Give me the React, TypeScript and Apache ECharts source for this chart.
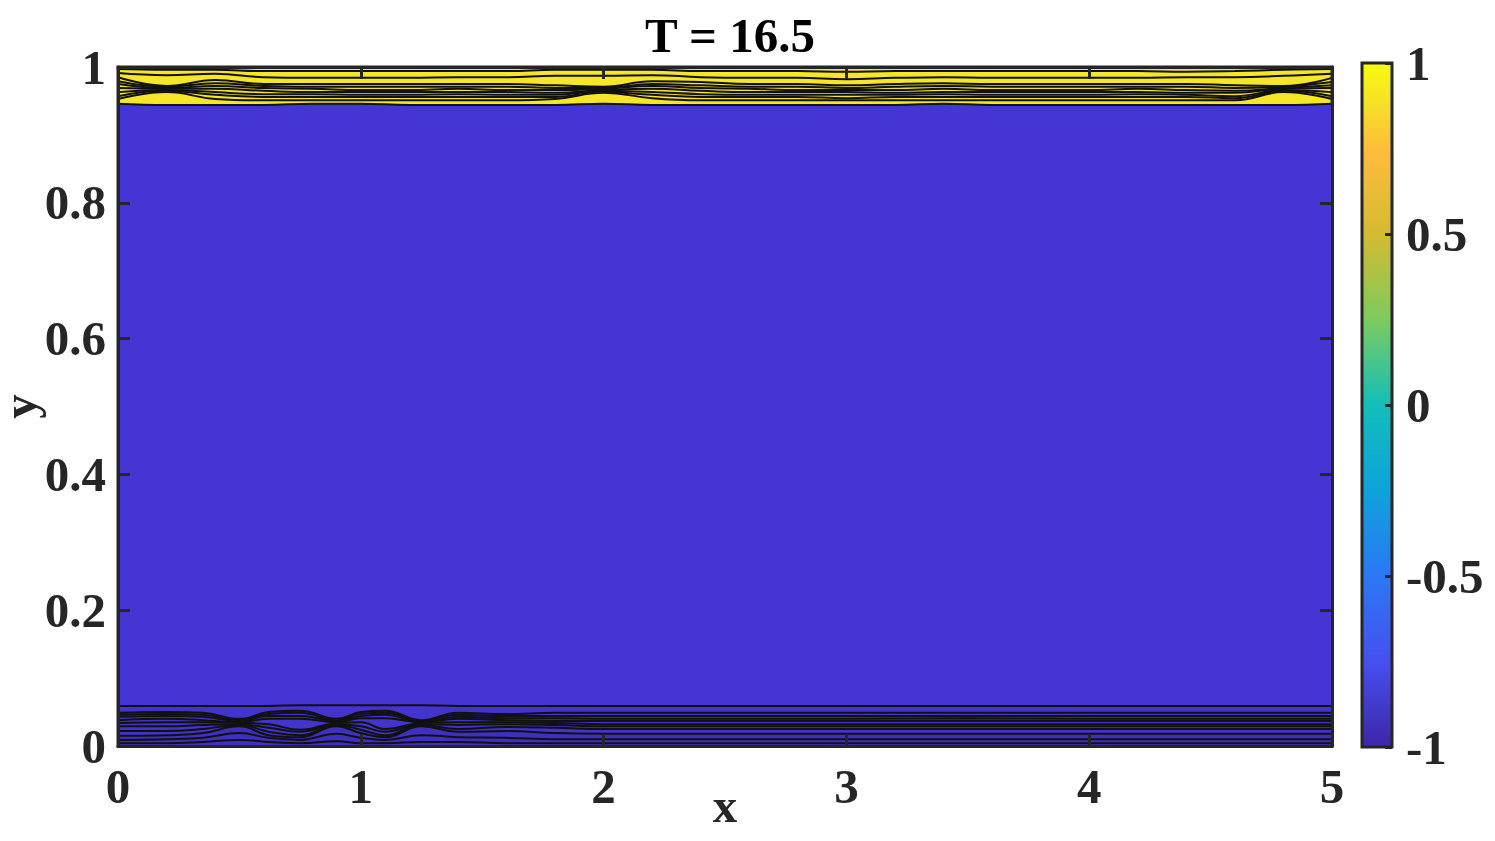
import React, { useEffect, useRef } from "react";
import * as echarts from "echarts";

// x positions of the upper contour samples
const X_TOP = [0, 0.2, 0.4, 0.6, 0.8, 1.0, 1.2, 1.4, 1.6, 1.8, 2.0, 2.2, 2.4, 2.6, 2.8, 3.0, 3.2, 3.4, 3.6, 3.8, 4.0, 4.2, 4.4, 4.6, 4.8, 5.0];
// upper band boundary (yellow / blue)
const TOP_EDGE = [0.946, 0.944, 0.944, 0.944, 0.946, 0.946, 0.944, 0.944, 0.944, 0.944, 0.946, 0.944, 0.944, 0.944, 0.944, 0.944, 0.944, 0.946, 0.944, 0.944, 0.944, 0.944, 0.944, 0.944, 0.944, 0.946];
const TOP_L1 = [0.997, 0.996, 0.996, 0.994, 0.994, 0.994, 0.994, 0.994, 0.994, 0.996, 0.996, 0.996, 0.994, 0.994, 0.994, 0.993, 0.994, 0.994, 0.994, 0.994, 0.994, 0.994, 0.993, 0.994, 0.996, 0.997];
const TOP_L2 = [0.991, 0.988, 0.990, 0.985, 0.984, 0.984, 0.984, 0.985, 0.985, 0.987, 0.987, 0.988, 0.985, 0.984, 0.984, 0.982, 0.984, 0.985, 0.984, 0.984, 0.984, 0.984, 0.985, 0.985, 0.987, 0.990];
const TOP_L3 = [0.985, 0.972, 0.981, 0.975, 0.975, 0.975, 0.975, 0.975, 0.975, 0.973, 0.971, 0.979, 0.978, 0.975, 0.975, 0.973, 0.975, 0.976, 0.975, 0.975, 0.975, 0.975, 0.975, 0.973, 0.972, 0.984];
const TOP_L4 = [0.979, 0.971, 0.976, 0.972, 0.971, 0.971, 0.971, 0.971, 0.971, 0.969, 0.969, 0.975, 0.973, 0.971, 0.971, 0.969, 0.971, 0.972, 0.971, 0.971, 0.971, 0.971, 0.971, 0.969, 0.971, 0.978];
const TOP_L5 = [0.975, 0.969, 0.972, 0.969, 0.968, 0.966, 0.966, 0.968, 0.966, 0.966, 0.968, 0.972, 0.969, 0.968, 0.966, 0.966, 0.966, 0.968, 0.966, 0.966, 0.966, 0.968, 0.966, 0.965, 0.969, 0.973];
const TOP_L6 = [0.969, 0.968, 0.968, 0.965, 0.963, 0.963, 0.963, 0.963, 0.963, 0.962, 0.966, 0.968, 0.965, 0.963, 0.963, 0.963, 0.962, 0.963, 0.963, 0.963, 0.963, 0.963, 0.962, 0.962, 0.968, 0.969];
const TOP_L7 = [0.963, 0.966, 0.963, 0.960, 0.960, 0.959, 0.959, 0.960, 0.959, 0.959, 0.965, 0.963, 0.960, 0.959, 0.959, 0.959, 0.959, 0.960, 0.959, 0.959, 0.959, 0.960, 0.959, 0.957, 0.966, 0.963];
const TOP_L8 = [0.957, 0.965, 0.959, 0.956, 0.956, 0.956, 0.956, 0.956, 0.956, 0.956, 0.963, 0.959, 0.956, 0.956, 0.956, 0.954, 0.956, 0.956, 0.956, 0.956, 0.956, 0.956, 0.956, 0.954, 0.965, 0.957];
const TOP_L9 = [0.953, 0.963, 0.953, 0.951, 0.951, 0.951, 0.951, 0.951, 0.951, 0.953, 0.962, 0.954, 0.951, 0.951, 0.951, 0.951, 0.951, 0.951, 0.951, 0.951, 0.951, 0.951, 0.951, 0.951, 0.963, 0.953];

// x positions of the lower contour samples
const X_BOT = [0, 0.2, 0.35, 0.5, 0.62, 0.75, 0.9, 1.0, 1.1, 1.25, 1.4, 1.6, 1.8, 2.0, 2.5, 3.0, 3.5, 4.0, 4.5, 5.0];
const BOT_EDGE = [0.059, 0.059, 0.059, 0.059, 0.059, 0.060, 0.060, 0.060, 0.060, 0.060, 0.059, 0.059, 0.059, 0.059, 0.059, 0.059, 0.059, 0.059, 0.059, 0.059];
const BOT_L1 = [0.049, 0.050, 0.049, 0.040, 0.050, 0.052, 0.040, 0.050, 0.052, 0.038, 0.049, 0.047, 0.049, 0.049, 0.049, 0.049, 0.049, 0.049, 0.049, 0.049];
const BOT_L2 = [0.046, 0.047, 0.046, 0.038, 0.047, 0.049, 0.038, 0.047, 0.049, 0.037, 0.046, 0.044, 0.044, 0.044, 0.044, 0.044, 0.044, 0.044, 0.044, 0.044];
const BOT_L3 = [0.043, 0.044, 0.043, 0.037, 0.044, 0.044, 0.037, 0.044, 0.046, 0.035, 0.043, 0.041, 0.041, 0.040, 0.040, 0.040, 0.041, 0.040, 0.040, 0.040];
const BOT_L4 = [0.038, 0.040, 0.038, 0.035, 0.040, 0.040, 0.035, 0.041, 0.041, 0.035, 0.040, 0.038, 0.037, 0.037, 0.037, 0.037, 0.037, 0.037, 0.037, 0.037];
const BOT_L5 = [0.034, 0.035, 0.035, 0.034, 0.032, 0.024, 0.034, 0.035, 0.025, 0.034, 0.035, 0.035, 0.034, 0.032, 0.032, 0.032, 0.032, 0.032, 0.032, 0.032];
const BOT_L6 = [0.029, 0.029, 0.031, 0.032, 0.027, 0.021, 0.032, 0.029, 0.021, 0.032, 0.031, 0.032, 0.031, 0.029, 0.029, 0.029, 0.029, 0.029, 0.029, 0.029];
const BOT_L7 = [0.022, 0.022, 0.025, 0.031, 0.021, 0.016, 0.031, 0.024, 0.016, 0.031, 0.025, 0.028, 0.027, 0.025, 0.025, 0.025, 0.025, 0.025, 0.025, 0.025];
const BOT_L8 = [0.015, 0.016, 0.019, 0.029, 0.016, 0.013, 0.029, 0.019, 0.013, 0.029, 0.021, 0.022, 0.019, 0.018, 0.018, 0.018, 0.018, 0.018, 0.018, 0.018];
const BOT_L9 = [0.009, 0.010, 0.012, 0.019, 0.012, 0.009, 0.018, 0.012, 0.009, 0.016, 0.013, 0.012, 0.010, 0.010, 0.010, 0.010, 0.010, 0.010, 0.010, 0.010];
const BOT_L10 = [0.004, 0.004, 0.006, 0.009, 0.006, 0.004, 0.007, 0.004, 0.004, 0.006, 0.006, 0.004, 0.004, 0.004, 0.004, 0.004, 0.004, 0.004, 0.004, 0.004];

const TITLE = "T = 16.5";
const X_NAME = "x";
const Y_NAME = "y";

const FONT = "'Liberation Serif', 'Times New Roman', serif";
const AX = "#262626";
const BLUE = "#4436D4";
const BLUE_LOW = "#4234CC";
const YELLOW = "#F5E62A";

export default function App() {
  const ref = useRef<HTMLDivElement>(null);
  useEffect(() => {
    const chart = echarts.init(ref.current!, null, { renderer: "svg" });
    const pts = (xs: number[], ys: number[]) => xs.map((x, i) => [x, ys[i]]);
    const contour = (xs: number[], ys: number[], area?: string) => ({
      type: "line",
      xAxisIndex: 0,
      yAxisIndex: 0,
      data: pts(xs, ys),
      showSymbol: false,
      symbol: "none",
      smooth: 0.45,
      lineStyle: { color: "#111", width: 2 },
      areaStyle: area ? { color: area, opacity: 1, origin: "start" } : undefined,
      silent: true,
    });
    const labelStyle = { fontFamily: FONT, fontWeight: "bold", fontSize: 49, color: AX };
    const axisCommon = {
      axisLine: { show: true, onZero: false, lineStyle: { color: AX, width: 3 } },
      axisTick: { show: true, inside: true, length: 12, lineStyle: { color: AX, width: 3 } },
      splitLine: { show: false },
      z: 10,
    };
    const option: any = {
      animation: false,
      backgroundColor: "#fff",
      title: {
        text: TITLE,
        left: 725,
        top: 6,
        textAlign: "center",
        textStyle: { fontFamily: FONT, fontWeight: "bold", fontSize: 49, color: "#000" },
      },
      grid: [
        {
          left: 118, right: 163, top: 67, bottom: 95, containLabel: false, outerBoundsMode: "none",
          show: true, backgroundColor: YELLOW, borderColor: AX, borderWidth: 3,
        },
        {
          left: 1362, right: 103, top: 63, bottom: 94, containLabel: false, outerBoundsMode: "none",
          show: true, borderColor: AX, borderWidth: 3,
          backgroundColor: new echarts.graphic.LinearGradient(0, 0, 0, 1, [
            { offset: 0, color: "#F9FB0E" },
            { offset: 0.06, color: "#F5E026" },
            { offset: 0.13, color: "#FDBC3C" },
            { offset: 0.25, color: "#D6BA30" },
            { offset: 0.375, color: "#7DCB5E" },
            { offset: 0.5, color: "#12BEB9" },
            { offset: 0.625, color: "#0DA3DC" },
            { offset: 0.75, color: "#2C78F5" },
            { offset: 0.875, color: "#4650F0" },
            { offset: 1, color: "#3E26A8" },
          ]),
        },
      ],
      xAxis: [
        {
          ...axisCommon, gridIndex: 0, type: "value", min: 0, max: 5, interval: 1, position: "bottom",
          axisLabel: { ...labelStyle, margin: 16 },
          name: X_NAME, nameLocation: "middle", nameGap: 35, nameMoveOverlap: false,
          nameTextStyle: { ...labelStyle },
        },
        {
          ...axisCommon, gridIndex: 0, type: "value", min: 0, max: 5, interval: 1, position: "top",
          axisLabel: { show: false },
        },
        { gridIndex: 1, type: "value", min: 0, max: 1, show: false },
      ],
      yAxis: [
        {
          ...axisCommon, gridIndex: 0, type: "value", min: 0, max: 1, interval: 0.2, position: "left",
          axisLabel: { ...labelStyle, margin: 12 },
          name: Y_NAME, nameLocation: "middle", nameGap: 84, nameMoveOverlap: false,
          nameTextStyle: { ...labelStyle, lineHeight: 30, padding: 0 },
        },
        {
          ...axisCommon, gridIndex: 0, type: "value", min: 0, max: 1, interval: 0.2, position: "right",
          axisLabel: { show: false },
        },
        {
          gridIndex: 1, type: "value", min: -1, max: 1, interval: 0.5, position: "right",
          axisLine: { show: false, onZero: false },
          axisTick: { show: true, inside: true, length: 7, lineStyle: { color: AX, width: 3 } },
          splitLine: { show: false },
          axisLabel: { ...labelStyle, margin: 14, align: "left" },
          z: 10,
        },
      ],
      series: [
        contour(X_TOP, TOP_EDGE, BLUE),
        contour(X_BOT, BOT_EDGE, BLUE_LOW),
        contour(X_TOP, TOP_L1),
        contour(X_TOP, TOP_L2),
        contour(X_TOP, TOP_L3),
        contour(X_TOP, TOP_L4),
        contour(X_TOP, TOP_L5),
        contour(X_TOP, TOP_L6),
        contour(X_TOP, TOP_L7),
        contour(X_TOP, TOP_L8),
        contour(X_TOP, TOP_L9),
        contour(X_BOT, BOT_L1),
        contour(X_BOT, BOT_L2),
        contour(X_BOT, BOT_L3),
        contour(X_BOT, BOT_L4),
        contour(X_BOT, BOT_L5),
        contour(X_BOT, BOT_L6),
        contour(X_BOT, BOT_L7),
        contour(X_BOT, BOT_L8, "#3F31C0"),
        contour(X_BOT, BOT_L9),
        contour(X_BOT, BOT_L10),
      ],
    };
    chart.setOption(option);
    return () => chart.dispose();
  }, []);
  return (
    <div
      ref={ref}
      style={{ position: "fixed", left: 0, top: 0, width: 1495, height: 841, background: "#fff" }}
    />
  );
}
